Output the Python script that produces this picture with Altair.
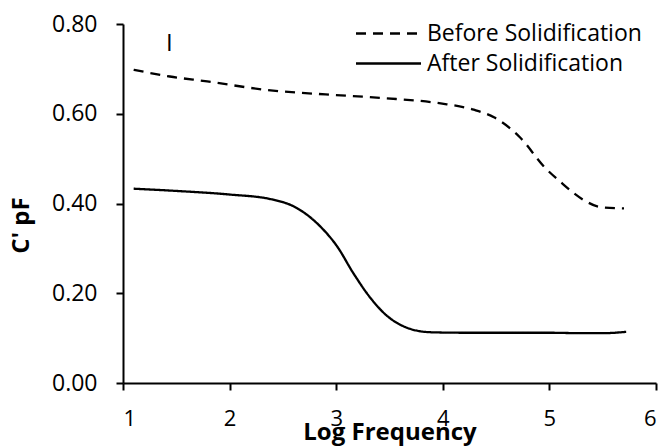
import altair as alt
import pandas as pd

before_label = "Before Solidification"
after_label = "After Solidification"

before_x = [1.10, 1.44, 1.79, 2.35, 2.90, 3.44, 3.98, 4.29, 4.48, 4.73, 4.95, 5.10, 5.32, 5.48, 5.70]
before_y = [0.698, 0.683, 0.672, 0.653, 0.643, 0.635, 0.623, 0.609, 0.592, 0.546, 0.482, 0.449, 0.408, 0.392, 0.389]

after_x = [1.10, 1.50, 2.00, 2.38, 2.63, 2.85, 3.01, 3.16, 3.32, 3.48, 3.60, 3.75, 3.90, 4.20, 4.60, 5.00, 5.30, 5.50, 5.72]
after_y = [0.433, 0.428, 0.420, 0.410, 0.390, 0.349, 0.304, 0.245, 0.190, 0.149, 0.130, 0.117, 0.113, 0.112, 0.112, 0.112, 0.111, 0.111, 0.114]

x_ticks = [1, 2, 3, 4, 5, 6]
y_ticks = [0.0, 0.2, 0.4, 0.6, 0.8]

marker_x = [1.435]
marker_y = [0.755]
marker_text = ["I"]

FONT = "Open Sans"

df = pd.DataFrame({
    "x": before_x + after_x,
    "y": before_y + after_y,
    "series": [before_label] * len(before_x) + [after_label] * len(after_x),
})
df_marker = pd.DataFrame({"x": marker_x, "y": marker_y, "t": marker_text})

x_enc = alt.X("x:Q", scale=alt.Scale(domain=[1, 6], nice=False),
              axis=alt.Axis(values=x_ticks, format="d", title="Log Frequency",
                            labelPadding=18, titlePadding=-9, titleFontSize=24))
y_enc = alt.Y("y:Q", scale=alt.Scale(domain=[0, 0.8], nice=False),
              axis=alt.Axis(values=y_ticks, format=".2f", title="C' pF", labelFontSize=23,
                            labelPadding=19, titlePadding=18, titleY=201, titleFontSize=24))

lines = alt.Chart(df).mark_line(color="black", strokeWidth=2.3, interpolate="monotone").encode(
    x=x_enc,
    y=y_enc,
    strokeDash=alt.StrokeDash(
        "series:N",
        scale=alt.Scale(domain=[before_label, after_label], range=[[10, 7], [1, 0]]),
        legend=alt.Legend(
            title=None, orient="none", legendX=254, legendY=-2,
            symbolType="M-5,0H5", symbolSize=169, symbolStrokeWidth=2.3,
            symbolStrokeColor="black", labelFontSize=23, labelFont=FONT,
            labelColor="black", labelOffset=27, rowPadding=6, labelLimit=400,
        ),
    ),
    detail="series:N",
)

marker = alt.Chart(df_marker).mark_text(fontSize=24, font=FONT, color="black",
                                        baseline="middle", align="center").encode(
    x=alt.X("x:Q"), y=alt.Y("y:Q"), text="t:N"
)

chart = alt.layer(lines, marker).properties(
    width=533, height=359,
    autosize=alt.AutoSizeParams(type="none"),
    padding={"left": 123, "top": 24, "right": 9, "bottom": 63},
).configure_view(stroke=None).configure_axis(
    grid=False, domainColor="black", domainWidth=2, tickColor="black", tickWidth=2,
    tickSize=7, labelColor="black", labelFont=FONT, labelFontSize=22,
    titleFont=FONT, titleFontWeight="bold", titleColor="black",
)

chart.save("out.html", embed_options={"renderer": "svg", "actions": False})
